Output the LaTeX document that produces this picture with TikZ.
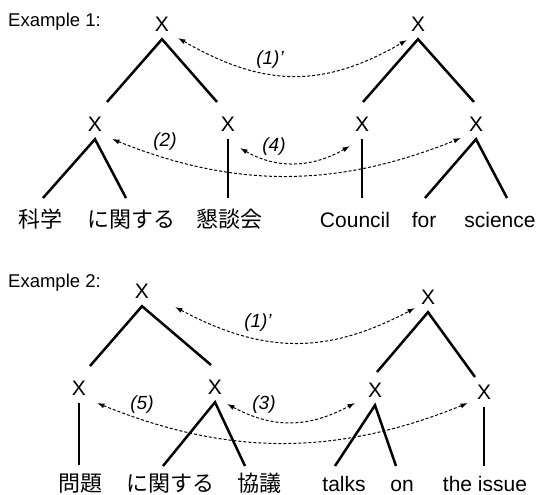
\documentclass[tikz,border=0pt]{standalone}
\usepackage{fontspec}
\setmainfont{Liberation Sans}
\newfontfamily\jfont{Noto Sans CJK JP}
\usetikzlibrary{arrows.meta}
\begin{document}
\begin{tikzpicture}[x=1pt,y=1pt,
  xn/.style={font=\fontsize{21}{21}\selectfont, inner sep=0pt, outer sep=8pt},
  wd/.style={font=\fontsize{21}{21}\selectfont, anchor=base, inner sep=0pt},
  jw/.style={font=\jfont\fontsize{22}{22}\selectfont, anchor=base, inner sep=0pt},
  ex/.style={font=\fontsize{18.5}{18.5}\selectfont, anchor=west, inner sep=0pt},
  lbl/.style={font=\itshape\fontsize{19}{19}\selectfont, inner sep=0pt},
  br/.style={line width=2.5pt},
  darr/.style={line width=1pt, dash pattern=on 3pt off 2pt, {Latex[length=7.5pt,width=5pt]}-{Latex[length=7.5pt,width=5pt]}}
]
\useasboundingbox (0,0) rectangle (538,495);
% ---------- Example 1 ----------
\node[ex] (ex1) at (8,473) {Example 1:};
\node[xn] (a1) at (162,471) {X};
\node[xn] (b1) at (418,471) {X};
\node[xn] (c1) at (95,371) {X};
\node[xn] (d1) at (228,371) {X};
\node[xn] (e1) at (362,371) {X};
\node[xn] (f1) at (476,371) {X};
\node[jw] (w11) at (41,267) {科学};
\node[jw] (w12) at (131,267) {に関する};
\node[jw] (w13) at (229,267) {懇談会};
\node[wd] (w14) at (355,267) {Council};
\node[wd] (w15) at (424,267) {for};
\node[wd] (w16) at (500,267) {science};
\coordinate (a1l) at (107,393);
\coordinate (a1r) at (217,393);
\coordinate (b1l) at (363,393);
\coordinate (b1r) at (474,393);
\coordinate (c1l) at (43,297);
\coordinate (c1r) at (126,297);
\coordinate (d1b) at (228,297);
\coordinate (e1b) at (362,297);
\coordinate (f1l) at (425,297);
\coordinate (f1r) at (507,297);
\draw[br] (a1l) -- (a1.south) -- (a1r);
\draw[br] (b1l) -- (b1.south) -- (b1r);
\draw[br] (c1l) -- (c1.south) -- (c1r);
\draw[br] (d1.south) -- (d1b);
\draw[br] (e1.south) -- (e1b);
\draw[br] (f1l) -- (f1.south) -- (f1r);
\draw[darr] ([shift={(16,-14)}]a1.center) to[out=-30,in=-150,distance=98pt] ([shift={(-11,-16)}]b1.center);
\draw[darr] ([shift={(17,-15)}]c1.center) to[out=-22,in=-158,distance=133pt] ([shift={(-15,-14)}]f1.center);
\draw[darr] ([shift={(12,-24)}]d1.center) to[out=-30,in=-150,distance=43pt] ([shift={(-12,-22)}]e1.center);
\node[lbl] (l11) at (270,435) {(1)'};
\node[lbl] (l12) at (165,353) {(2)};
\node[lbl] (l14) at (274,348) {(4)};
% ---------- Example 2 ----------
\node[ex] (ex2) at (8,212) {Example 2:};
\node[xn] (a2) at (142,204) {X};
\node[xn] (b2) at (428,198) {X};
\node[xn] (c2) at (79,107) {X};
\node[xn] (d2) at (215,108) {X};
\node[xn] (e2) at (375,105) {X};
\node[xn] (f2) at (484,103) {X};
\node[jw] (w21) at (80,3) {問題};
\node[jw] (w22) at (170,3) {に関する};
\node[jw] (w23) at (259,3) {協議};
\node[wd] (w24) at (344,3) {talks};
\node[wd] (w25) at (402,3) {on};
\node[wd] (w26) at (485,3) {the issue};
\coordinate (a2l) at (90,129);
\coordinate (a2r) at (211,130);
\coordinate (b2l) at (377,123);
\coordinate (b2r) at (475,118);
\coordinate (c2b) at (79,30);
\coordinate (d2l) at (163,29);
\coordinate (d2r) at (245,29);
\coordinate (e2l) at (335,29);
\coordinate (e2r) at (396,29);
\coordinate (f2b) at (484,29);
\draw[br] (a2l) -- (a2.south) -- (a2r);
\draw[br] (b2l) -- (b2.south) -- (b2r);
\draw[br] (c2.south) -- (c2b);
\draw[br] (d2l) -- (d2.south) -- (d2r);
\draw[br] (e2l) -- (e2.south) -- (e2r);
\draw[br] (f2.south) -- (f2b);
\draw[darr] ([shift={(33,-16)}]a2.center) to[out=-28,in=-152,distance=100pt] ([shift={(-13,-11)}]b2.center);
\draw[darr] ([shift={(18,-15)}]c2.center) to[out=-22,in=-158,distance=142pt] ([shift={(-16,-11)}]f2.center);
\draw[darr] ([shift={(12,-17)}]d2.center) to[out=-28,in=-152,distance=53pt] ([shift={(-20,-13)}]e2.center);
\node[lbl] (l21) at (258,172) {(1)'};
\node[lbl] (l25) at (142,90) {(5)};
\node[lbl] (l23) at (264,90) {(3)};
\end{tikzpicture}
\end{document}
